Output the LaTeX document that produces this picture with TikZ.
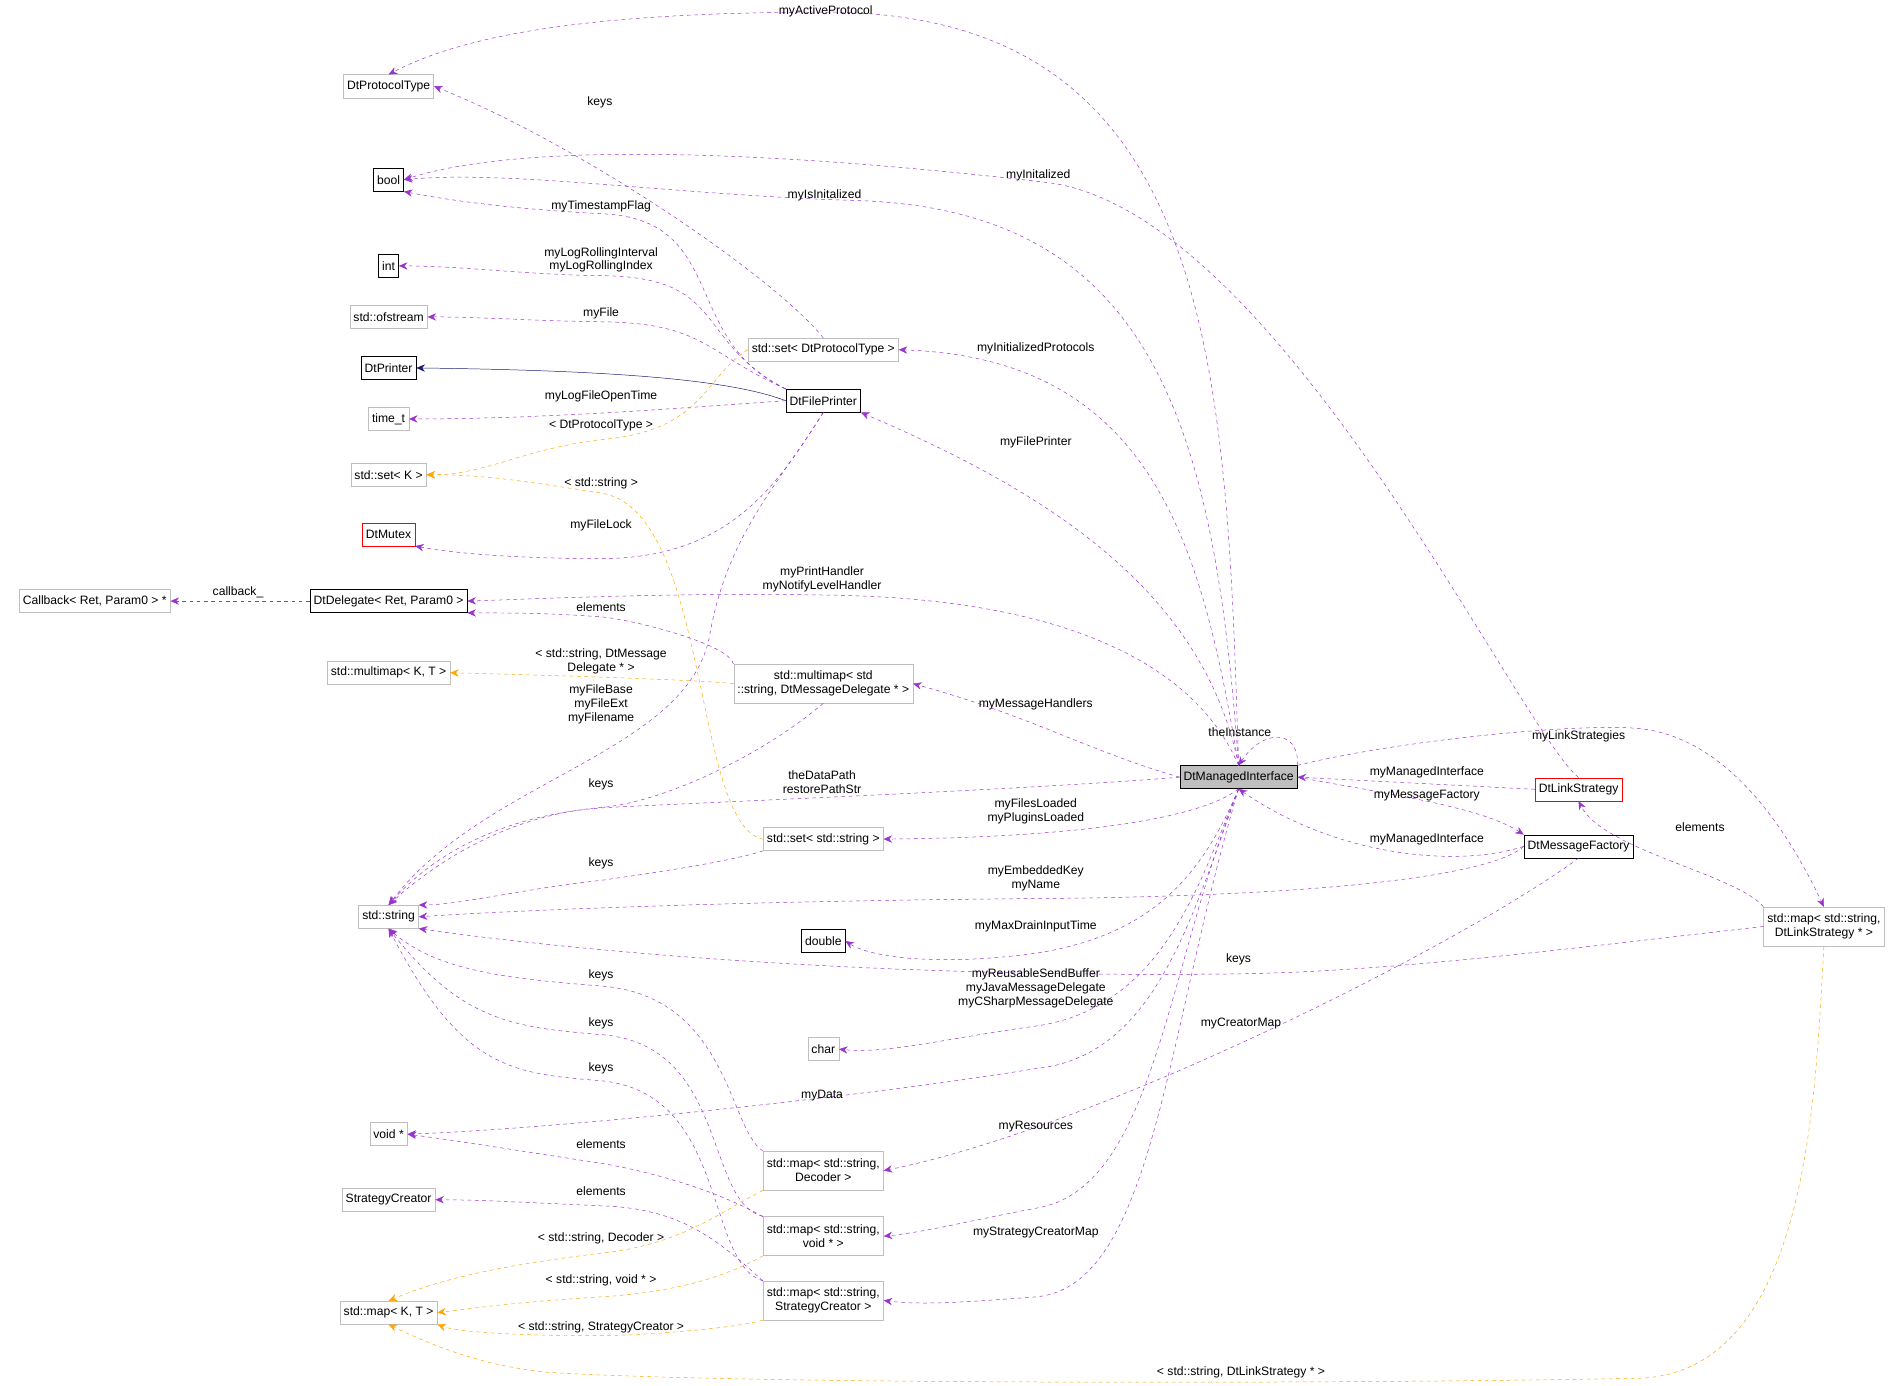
\documentclass[tikz,border=0pt]{standalone}
\usepackage{fontspec}
\setmainfont{Liberation Sans}
\usetikzlibrary{arrows.meta}
\definecolor{ep}{HTML}{9A32CD}
\definecolor{eo}{HTML}{FFA500}
\definecolor{en}{HTML}{191970}
\definecolor{gb}{HTML}{BFBFBF}
\begin{document}
\begin{tikzpicture}[x=1pt,y=-1pt,
 font=\fontsize{10}{11.5}\selectfont,
 box/.style={draw=black,fill=white,inner sep=3pt,minimum height=19pt,align=center},
 gbox/.style={box,draw=gb},
 rbox/.style={box,draw=red},
 box2/.style={box,draw=gb,minimum height=32pt},
 p/.style={draw=ep,dashed,-{Stealth[length=7pt,width=6pt]}},
 o/.style={draw=eo,dashed,-{Stealth[length=7pt,width=6pt]}},
 n/.style={draw=en,-{Stealth[length=7pt,width=6pt]}},
 lab/.style={inner sep=0pt,align=center}]
\useasboundingbox (0,0) rectangle (1568,1141);
% nodes
\node[gbox] (pt) at (320,71) {DtProtocolType};
\node[box] (bool) at (320,148) {bool};
\node[box] (int) at (320,219) {int};
\node[gbox] (ofs) at (320,261) {std::ofstream};
\node[box] (pr) at (320,303) {DtPrinter};
\node[gbox] (tt) at (320,345) {time\_t};
\node[gbox] (setk) at (320,391) {std::set< K >};
\node[rbox] (mtx) at (320,440) {DtMutex};
\node[gbox] (cb) at (78,495) {Callback< Ret, Param0 > *};
\node[box] (del) at (320,495) {DtDelegate< Ret, Param0 >};
\node[gbox] (mmk) at (320,554) {std::multimap< K, T >};
\node[gbox] (str) at (320,755) {std::string};
\node[gbox] (vp) at (320,934) {void *};
\node[gbox] (sc) at (320,988) {StrategyCreator};
\node[gbox] (mapk) at (320,1081) {std::map< K, T >};
\node[gbox] (setpt) at (678,288) {std::set< DtProtocolType >};
\node[box] (fp) at (678,330) {DtFilePrinter};
\node[box2] (mm) at (678,563) {std::multimap< std\\::string, DtMessageDelegate * >};
\node[gbox] (sets) at (678,691) {std::set< std::string >};
\node[box] (dbl) at (678,775) {double};
\node[gbox] (chr) at (678,864) {char};
\node[box2] (mdec) at (678,964) {std::map< std::string,\\Decoder >};
\node[box2] (mvp) at (678,1018) {std::map< std::string,\\void * >};
\node[box2] (msc) at (678,1071) {std::map< std::string,\\StrategyCreator >};
\node[box,fill=gb] (dmi) at (1020,640) {DtManagedInterface};
\node[rbox] (ls) at (1300,650) {DtLinkStrategy};
\node[box] (mf) at (1300,697) {DtMessageFactory};
\node[box2] (mls) at (1502,763) {std::map< std::string,\\DtLinkStrategy * >};
% edges
\draw[p] (dmi.north) .. controls (1010,300) and (1000,10) .. (680,10) .. controls (480,10) and (380,30) .. (pt.north);
\node[lab] (l1) at (680,9) {myActiveProtocol};
\draw[p] (setpt.north) .. controls (640,230) and (480,120) .. (pt.east);
\node[lab] (l2) at (494,84) {keys};
\draw[p] (ls.north) .. controls (1250,600) and (1050,170) .. (860,150) .. controls (600,120) and (420,120) .. (bool.east);
\node[lab] (l3) at (855,144) {myInitalized};
\draw[p] (dmi.north) .. controls (1000,350) and (950,170) .. (700,165) .. controls (550,160) and (420,140) .. (bool.east);
\node[lab] (l4) at (679,161) {myIsInitalized};
\draw[p] (fp.north west) .. controls (560,280) and (600,180) .. (495,176) .. controls (420,172) and (370,165) .. (bool.south east);
\node[lab] (l5) at (495,170) {myTimestampFlag};
\draw[p] (fp.north west) .. controls (570,280) and (600,228) .. (495,227) .. controls (430,226) and (380,219) .. (int.east);
\node[lab] (l6) at (495,214) {myLogRollingInterval\\myLogRollingIndex};
\draw[p] (fp.north west) .. controls (580,290) and (580,266) .. (495,265) .. controls (430,264) and (400,261) .. (ofs.east);
\node[lab] (l7) at (495,258) {myFile};
\draw[n] (fp.west) .. controls (600,312) and (500,305) .. (pr.east);
\draw[p] (fp.west) .. controls (560,336) and (450,345) .. (tt.east);
\node[lab] (l9) at (495,326) {myLogFileOpenTime};
\draw[o] (setpt.west) .. controls (580,310) and (580,355) .. (495,362) .. controls (430,370) and (400,391) .. (setk.east);
\node[lab] (l10) at (495,350) {< DtProtocolType >};
\draw[o] (sets.west) .. controls (570,680) and (585,420) .. (495,406) .. controls (430,396) and (400,391) .. (setk.east);
\node[lab] (l11) at (495,398) {< std::string >};
\draw[p] (fp.south) .. controls (640,400) and (600,460) .. (495,460) .. controls (420,460) and (370,455) .. (mtx.south east);
\node[lab] (l12) at (495,433) {myFileLock};
\draw[p] (del.west) -- (cb.east);
\node[lab] (l13) at (196,488) {callback\_};
\draw[p] (dmi.north) .. controls (990,560) and (900,492) .. (677,490) .. controls (550,488) and (450,493) .. (del.east);
\node[lab] (l14) at (677,477) {myPrintHandler\\myNotifyLevelHandler};
\draw[p] (mm.north west) .. controls (600,530) and (520,510) .. (495,508) .. controls (440,504) and (410,505) .. (del.south east);
\node[lab] (l15) at (495,500) {elements};
\draw[o] (mm.west) .. controls (580,560) and (450,556) .. (mmk.east);
\node[lab] (l16) at (495,545) {< std::string, DtMessage\\Delegate * >};
\draw[p] (fp.south) .. controls (640,400) and (600,440) .. (585,520) .. controls (570,620) and (400,640) .. (str.north);
\node[lab] (l17) at (495,580) {myFileBase\\myFileExt\\myFilename};
\draw[p] (dmi.north) .. controls (990,450) and (950,295) .. (setpt.east);
\node[lab] (l18) at (853,287) {myInitializedProtocols};
\draw[p] (dmi.north) .. controls (990,480) and (850,400) .. (fp.south east);
\node[lab] (l19) at (853,364) {myFilePrinter};
\draw[p] (dmi.west) .. controls (900,620) and (850,590) .. (mm.east);
\node[lab] (l20) at (853,580) {myMessageHandlers};
\draw[p] (dmi.north east) .. controls (1070,600) and (1040,600) .. (dmi.north);
\node[lab] (l21) at (1021,603) {theInstance};
\draw[p] (dmi.west) .. controls (850,650) and (600,660) .. (500,665) .. controls (420,670) and (360,700) .. (str.north);
\node[lab] (l22) at (677,644) {theDataPath\\restorePathStr};
\draw[p] (mm.south) .. controls (630,620) and (550,660) .. (495,665) .. controls (430,670) and (370,700) .. (str.north);
\node[lab] (l23) at (495,646) {keys};
\draw[p] (dmi.south) .. controls (980,680) and (850,690) .. (sets.east);
\node[lab] (l24) at (853,668) {myFilesLoaded\\myPluginsLoaded};
\draw[p] (sets.south west) .. controls (600,710) and (530,720) .. (495,725) .. controls (430,732) and (380,745) .. (str.north east);
\node[lab] (l25) at (495,711) {keys};
\draw[p] (mf.west) .. controls (1230,720) and (1100,738) .. (853,740) .. controls (600,742) and (420,750) .. (str.east);
\node[lab] (l26) at (853,723) {myEmbeddedKey\\myName};
\draw[p] (dmi.south) .. controls (990,720) and (950,770) .. (853,785) .. controls (780,795) and (720,790) .. (dbl.east);
\node[lab] (l27) at (853,763) {myMaxDrainInputTime};
\draw[p] (mls.west) .. controls (1300,780) and (1150,800) .. (1020,802) .. controls (700,806) and (450,780) .. (str.south east);
\node[lab] (l28) at (1020,790) {keys};
\draw[p] (dmi.south) .. controls (990,720) and (960,830) .. (853,845) .. controls (780,855) and (730,868) .. (chr.east);
\node[lab] (l29) at (853,814) {myReusableSendBuffer\\myJavaMessageDelegate\\myCSharpMessageDelegate};
\draw[p] (mdec.north west) .. controls (600,930) and (600,820) .. (495,812) .. controls (420,806) and (360,800) .. (str.south);
\node[lab] (l30) at (495,803) {keys};
\draw[p] (mvp.north west) .. controls (580,990) and (600,860) .. (495,852) .. controls (420,846) and (380,840) .. (str.south);
\node[lab] (l31) at (495,843) {keys};
\draw[p] (msc.north west) .. controls (580,1040) and (600,900) .. (495,890) .. controls (420,884) and (380,880) .. (str.south);
\node[lab] (l32) at (495,880) {keys};
\draw[p] (dmi.south) .. controls (980,760) and (950,870) .. (853,880) .. controls (700,905) and (450,930) .. (vp.east);
\node[lab] (l33) at (677,902) {myData};
\draw[p] (mvp.north west) .. controls (580,975) and (520,962) .. (495,958) .. controls (430,948) and (380,940) .. (vp.east);
\node[lab] (l34) at (495,942) {elements};
\draw[p] (msc.north west) .. controls (590,1020) and (560,995) .. (495,993) .. controls (430,990) and (390,988) .. (sc.east);
\node[lab] (l35) at (495,981) {elements};
\draw[p] (mf.south) .. controls (1200,780) and (900,930) .. (mdec.east);
\node[lab] (l36) at (1022,843) {myCreatorMap};
\draw[p] (dmi.south) .. controls (960,800) and (950,980) .. (853,995) .. controls (800,1005) and (760,1015) .. (mvp.east);
\node[lab] (l37) at (853,928) {myResources};
\draw[p] (dmi.south) .. controls (960,850) and (950,1060) .. (853,1068) .. controls (800,1072) and (760,1075) .. (msc.east);
\node[lab] (l38) at (853,1015) {myStrategyCreatorMap};
\draw[o] (mdec.south west) .. controls (590,1000) and (560,1025) .. (495,1032) .. controls (430,1040) and (370,1050) .. (mapk.north);
\node[lab] (l39) at (495,1020) {< std::string, Decoder >};
\draw[o] (mvp.south west) .. controls (600,1050) and (560,1064) .. (495,1068) .. controls (430,1072) and (400,1076) .. (mapk.east);
\node[lab] (l40) at (495,1054) {< std::string, void * >};
\draw[o] (msc.south west) .. controls (600,1095) and (520,1100) .. (495,1100) .. controls (440,1100) and (380,1098) .. (mapk.south east);
\node[lab] (l41) at (495,1093) {< std::string, StrategyCreator >};
\draw[o] (mls.south) .. controls (1495,900) and (1490,1130) .. (1350,1135) .. controls (1100,1140) and (600,1140) .. (450,1130) .. controls (400,1125) and (360,1110) .. (mapk.south);
\node[lab] (l42) at (1022,1130) {< std::string, DtLinkStrategy * >};
\draw[p] (ls.west) -- (dmi.east);
\node[lab] (l43) at (1175,636) {myManagedInterface};
\draw[p] (dmi.east) .. controls (1150,655) and (1220,665) .. (mf.north west);
\node[lab] (l44) at (1175,655) {myMessageFactory};
\draw[p] (mf.west) .. controls (1200,715) and (1100,705) .. (dmi.south);
\node[lab] (l45) at (1175,691) {myManagedInterface};
\draw[p] (dmi.north east) .. controls (1150,610) and (1300,595) .. (1350,600) .. controls (1430,608) and (1480,700) .. (mls.north);
\node[lab] (l46) at (1300,606) {myLinkStrategies};
\draw[p] (mls.north west) .. controls (1430,720) and (1320,700) .. (ls.south);
\node[lab] (l47) at (1400,681) {elements};
\end{tikzpicture}
\end{document}
